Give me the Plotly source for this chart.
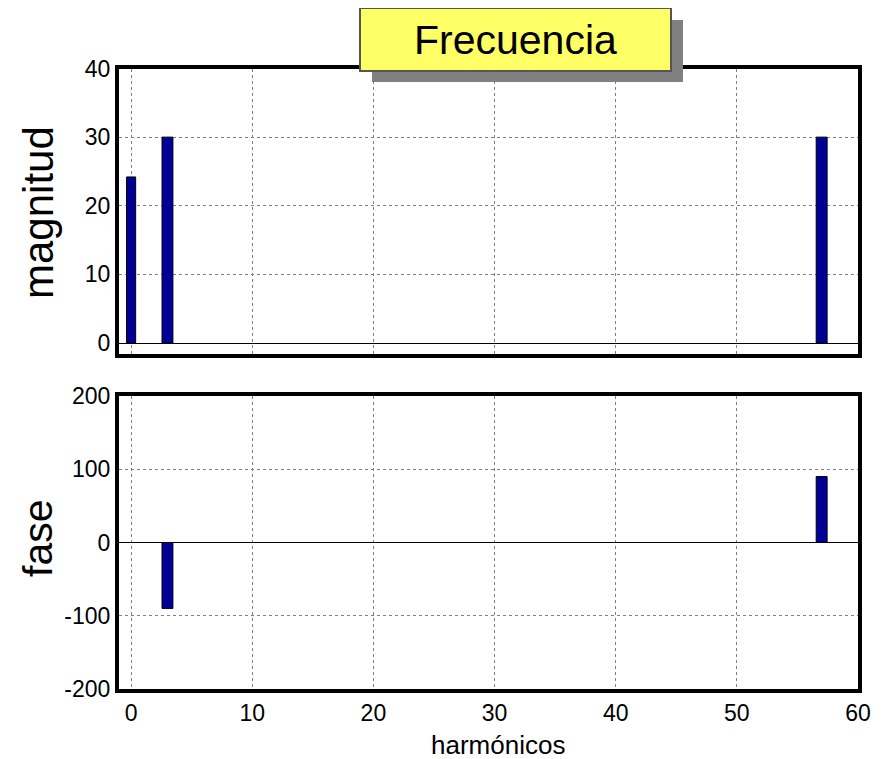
import plotly.graph_objects as go

harmonics = [0, 3, 57]
magnitude = [24.2, 30, 30]
phase_h = [3, 57]
phase = [-90, 90]
bar_widths_mag = [0.75, 0.9, 0.9]
bar_widths_ph = [0.9, 0.9]
x_ticks = [0, 10, 20, 30, 40, 50, 60]
mag_ticks = [0, 10, 20, 30, 40]
phase_ticks = [-200, -100, 0, 100, 200]
phase_labels = ["-200", "-100", "0", "100", "200"]

# page body has an 8px margin; map window pixels to paper coords
OFF = 8
W, H = 890 - OFF, 759 - OFF
def px(x): return (x - OFF) / W
def py(y): return 1 - (y - OFF) / H

fig = go.Figure()
fig.add_trace(go.Bar(x=harmonics, y=magnitude, width=bar_widths_mag,
                     marker=dict(color="#000099", line=dict(color="black", width=1)),
                     xaxis="x", yaxis="y", showlegend=False))
fig.add_trace(go.Bar(x=phase_h, y=phase, width=bar_widths_ph,
                     marker=dict(color="#000099", line=dict(color="black", width=1)),
                     xaxis="x2", yaxis="y2", showlegend=False))

font = "Liberation Sans, Arial, sans-serif"
grid = dict(showgrid=True, gridcolor="#808080", griddash="dot", gridwidth=1,
            showline=True, linecolor="black", linewidth=4, mirror=True,
            ticks="", tickfont=dict(size=23, color="black"), automargin=False)
common_x = dict(grid, range=[-1, 60], tickvals=x_ticks, zeroline=False,
                domain=[px(119), px(858)])
fig.update_layout(
    width=W, height=H, margin=dict(l=0, r=0, t=0, b=0, autoexpand=False),
    plot_bgcolor="white", paper_bgcolor="white",
    font=dict(family=font, color="black"),
    xaxis=dict(common_x, anchor="y", showticklabels=False),
    yaxis=dict(grid, range=[-1.6, 40], tickvals=mag_ticks, domain=[py(354), py(68.5)],
               zeroline=True, zerolinecolor="black", zerolinewidth=1),
    xaxis2=dict(common_x, anchor="y2"),
    yaxis2=dict(grid, range=[-200, 200], tickvals=phase_ticks, ticktext=phase_labels,
                domain=[py(689), py(396)],
                zeroline=True, zerolinecolor="black", zerolinewidth=1),
    shapes=[
        dict(type="rect", xref="paper", yref="paper", x0=px(372), x1=px(683), y0=py(82), y1=py(20),
             fillcolor="#808080", line=dict(width=0), layer="above"),
        dict(type="rect", xref="paper", yref="paper", x0=px(360), x1=px(671), y0=py(71), y1=py(8),
             fillcolor="#FFFF66", line=dict(color="#555555", width=2), layer="above"),
    ],
    annotations=[
        dict(text="Frecuencia", xref="paper", yref="paper", x=px(515.5), y=py(40),
             xanchor="center", yanchor="middle", showarrow=False,
             font=dict(size=41, color="black", family=font)),
        dict(text="magnitud", xref="paper", yref="paper", x=px(38), y=py(213),
             xanchor="center", yanchor="middle", showarrow=False, textangle=-90,
             font=dict(size=42, color="black", family=font)),
        dict(text="fase", xref="paper", yref="paper", x=px(38), y=py(538),
             xanchor="center", yanchor="middle", showarrow=False, textangle=-90,
             font=dict(size=41, color="black", family=font)),
        dict(text="harmónicos", xref="paper", yref="paper", x=px(498), y=py(745),
             xanchor="center", yanchor="middle", showarrow=False,
             font=dict(size=26, color="black", family=font)),
    ],
)

fig.write_html("out.html")
